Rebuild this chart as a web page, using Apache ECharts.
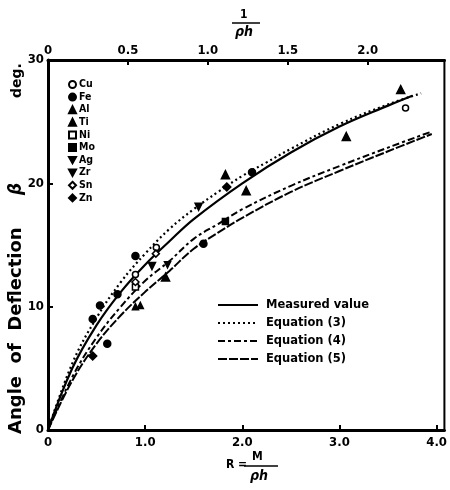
<!DOCTYPE html>
<html><head><meta charset="utf-8">
<script src="https://cdn.jsdelivr.net/npm/echarts@6/dist/echarts.min.js"></script>
<style>html,body{margin:0;padding:0;background:#fff}#c{width:450px;height:490px}</style>
</head><body><div id="c"></div>
<script>
// R values (bottom axis) and curve values (deg)
const measuredR = [0, 0.25, 0.5, 0.75, 1.0, 1.25, 1.5, 2.0, 2.5, 3.0, 3.5, 3.75];
const measuredB = [0, 5.0, 8.5, 11.2, 13.4, 15.3, 17.1, 20.0, 22.5, 24.6, 26.3, 27.1];
const eq3R = [0, 0.25, 0.5, 0.75, 1.0, 1.25, 1.5, 1.75, 2.0, 2.25, 2.5, 3.0, 3.5, 3.84];
const eq3B = [0, 5.4, 9.1, 12.0, 14.3, 16.3, 17.9, 19.3, 20.6, 21.7, 22.8, 24.8, 26.4, 27.3];
const eq4R = [0, 0.25, 0.5, 0.75, 1.0, 1.25, 1.5, 1.75, 2.0, 2.5, 3.0, 3.5, 3.95];
const eq4B = [0, 4.3, 7.5, 10.0, 12.1, 13.7, 15.5, 16.7, 17.9, 19.8, 21.4, 22.9, 24.2];
const eq5R = [0, 0.25, 0.5, 0.75, 1.0, 1.25, 1.5, 1.75, 2.0, 2.5, 3.0, 3.5, 3.95];
const eq5B = [0, 4.0, 7.0, 9.3, 11.2, 12.9, 14.7, 16.0, 17.2, 19.3, 21.0, 22.6, 24.0];

const metals = ['Cu', 'Fe', 'Al', 'Ti', 'Ni', 'Mo', 'Ag', 'Zr', 'Sn', 'Zn'];
const ptsCu = [[1.115, 14.8], [0.90, 12.6], [3.68, 26.1]];
const ptsFe = [[0.90, 14.1], [0.535, 10.1], [0.46, 9.0], [0.61, 7.0], [0.715, 11.0], [1.60, 15.1], [2.10, 20.9]];
const ptsAl = [[1.826, 20.7], [2.04, 19.4], [3.63, 27.6], [3.07, 23.8], [1.21, 12.4]];
const ptsTi = [[0.90, 10.0], [0.95, 10.1]];
const ptsNi = [[0.90, 11.6]];
const ptsMo = [[1.826, 16.9]];
const ptsAg = [[1.55, 18.1], [1.07, 13.3]];
const ptsZr = [[1.23, 13.4]];
const ptsSn = [[0.90, 12.0], [1.11, 14.3]];
const ptsZn = [[1.84, 19.7], [0.46, 6.0]];

const bottomTicks = ['0', '1.0', '2.0', '3.0', '4.0'];
const topTicks = ['0', '0.5', '1.0', '1.5', '2.0'];
const yTicks = ['0', '10', '20', '30'];

const FONT = 'DejaVu Sans Condensed';
const WFONT = 'DejaVu Sans';
const pair = (xs, ys) => xs.map((x, i) => [x, ys[i]]);
const INV_TRI = 'path://M0,0 L10,0 L5,9 Z';

const symDefs = {
  Cu: {symbol: 'circle', size: 6, fill: '#fff'},
  Fe: {symbol: 'circle', size: 7, fill: '#000'},
  Al: {symbol: 'triangle', size: 8, fill: '#000'},
  Ti: {symbol: 'triangle', size: 6, fill: '#000'},
  Ni: {symbol: 'rect', size: 6, fill: '#fff'},
  Mo: {symbol: 'rect', size: 6, fill: '#000'},
  Ag: {symbol: INV_TRI, size: 7, fill: '#000'},
  Zr: {symbol: INV_TRI, size: 6, fill: '#000'},
  Sn: {symbol: 'diamond', size: 7, fill: '#fff'},
  Zn: {symbol: 'diamond', size: 8, fill: '#000'}
};
const ptsAll = {Cu: ptsCu, Fe: ptsFe, Al: ptsAl, Ti: ptsTi, Ni: ptsNi, Mo: ptsMo, Ag: ptsAg, Zr: ptsZr, Sn: ptsSn, Zn: ptsZn};

const scatterSeries = metals.map(m => ({
  name: m, type: 'scatter', xAxisIndex: 0, yAxisIndex: 0,
  data: ptsAll[m], symbol: symDefs[m].symbol, symbolSize: symDefs[m].size,
  itemStyle: {color: symDefs[m].fill, borderColor: '#000', borderWidth: 1.5, opacity: 1},
  z: 5
}));

const lineNames = ['Measured value', 'Equation (3)', 'Equation (4)', 'Equation (5)'];
const lineData = [pair(measuredR, measuredB), pair(eq3R, eq3B), pair(eq4R, eq4B), pair(eq5R, eq5B)];
const lineTypes = ['solid', [2, 3], [7, 3, 3, 3], [9, 2]];
const lineWidths = [2.2, 2.2, 2, 2];
const lineSeries = lineNames.map((n, i) => ({
  name: n, type: 'line', xAxisIndex: 0, yAxisIndex: 0, data: lineData[i],
  smooth: 0.4, showSymbol: false, symbol: 'none',
  lineStyle: {color: '#000', width: lineWidths[i], type: lineTypes[i]},
  itemStyle: {color: '#000'}, z: 3
}));

const chart = echarts.init(document.getElementById('c'), null, {renderer: 'canvas'});
chart.setOption({
  backgroundColor: '#fff',
  animation: false,
  textStyle: {fontFamily: FONT, fontWeight: 'bold', color: '#000'},
  grid: {left: 48, top: 60, right: 3, bottom: 60, show: true, borderColor: '#000', borderWidth: 2, backgroundColor: 'transparent'},
  legend: [
    {
      data: metals.map(m => ({name: m, icon: symDefs[m].symbol})),
      orient: 'vertical', left: 68, top: 79, itemWidth: 7, itemHeight: 7, itemGap: 1.6,
      textStyle: {fontFamily: FONT, fontWeight: 'bold', fontSize: 10.5, lineHeight: 8, color: '#000', padding: [0, 0, 0, -2]},
      padding: 0, selectedMode: false
    },
    {
      data: lineNames, orient: 'vertical', left: 217, top: 299, itemWidth: 40, itemHeight: 6, itemGap: 6,
      itemStyle: {opacity: 0},
      textStyle: {fontFamily: WFONT, fontWeight: 'bold', fontSize: 11.5, lineHeight: 12, color: '#000', padding: [0, 0, 0, 3]},
      padding: 0, selectedMode: false
    }
  ],
  xAxis: [
    {
      type: 'value', position: 'bottom', min: 0, max: 4.08, interval: 1,
      axisLine: {show: true, onZero: false, lineStyle: {color: '#000', width: 3}},
      axisTick: {show: true, inside: true, length: 5, lineStyle: {color: '#000', width: 2}},
      splitLine: {show: false},
      axisLabel: {showMaxLabel: false, formatter: v => bottomTicks[Math.round(v)] || '', fontSize: 13, fontWeight: 'bold', fontFamily: FONT, color: '#000', margin: 6}
    },
    {
      type: 'value', position: 'top', min: 0, max: 2.48, interval: 0.5,
      axisLine: {show: true, onZero: false, lineStyle: {color: '#000', width: 3}},
      axisTick: {show: true, inside: true, length: 5, lineStyle: {color: '#000', width: 2}},
      splitLine: {show: false},
      axisLabel: {showMaxLabel: false, formatter: v => topTicks[Math.round(v * 2)] || '', fontSize: 13, fontWeight: 'bold', fontFamily: FONT, color: '#000', margin: 3}
    }
  ],
  yAxis: [{
    type: 'value', min: 0, max: 30, interval: 10,
    axisLine: {show: true, onZero: false, lineStyle: {color: '#000', width: 3}},
    axisTick: {show: true, inside: true, length: 5, lineStyle: {color: '#000', width: 2}},
    splitLine: {show: false},
    axisLabel: {formatter: v => yTicks[Math.round(v / 10)], fontSize: 13, fontWeight: 'bold', fontFamily: FONT, color: '#000', margin: 4}
  }],
  graphic: [
    {type: 'text', x: 7, y: 434, rotation: Math.PI / 2,
      style: {text: 'Angle  of  Deflection', fontFamily: WFONT, fontWeight: 'bold', fontSize: 18, fill: '#000'}},
    {type: 'text', x: 8, y: 195, rotation: Math.PI / 2,
      style: {text: 'β', fontFamily: WFONT, fontWeight: 'bold', fontStyle: 'italic', fontSize: 17, fill: '#000'}},
    {type: 'text', x: 10, y: 98, rotation: Math.PI / 2,
      style: {text: 'deg.', fontFamily: WFONT, fontWeight: 'bold', fontSize: 14, fill: '#000'}},
    // bottom axis name R = M / ρh
    {type: 'text', x: 226, y: 459, style: {text: 'R =', fontFamily: FONT, fontWeight: 'bold', fontSize: 12, fill: '#000'}},
    {type: 'text', x: 252, y: 451, style: {text: 'M', fontFamily: FONT, fontWeight: 'bold', fontSize: 12, fill: '#000'}},
    {type: 'line', shape: {x1: 244, y1: 466, x2: 278, y2: 466}, style: {stroke: '#000', lineWidth: 1.5}},
    {type: 'text', x: 250, y: 469, style: {text: 'ρh', fontFamily: FONT, fontWeight: 'bold', fontStyle: 'italic', fontSize: 14, fill: '#000'}},
    // top axis name 1 / ρh
    {type: 'text', x: 240, y: 9, style: {text: '1', fontFamily: FONT, fontWeight: 'bold', fontSize: 12, fill: '#000'}},
    {type: 'line', shape: {x1: 232, y1: 23, x2: 260, y2: 23}, style: {stroke: '#000', lineWidth: 1.5}},
    {type: 'text', x: 235, y: 25, style: {text: 'ρh', fontFamily: FONT, fontWeight: 'bold', fontStyle: 'italic', fontSize: 14, fill: '#000'}}
  ],
  series: lineSeries.concat(scatterSeries)
});
</script></body></html>
